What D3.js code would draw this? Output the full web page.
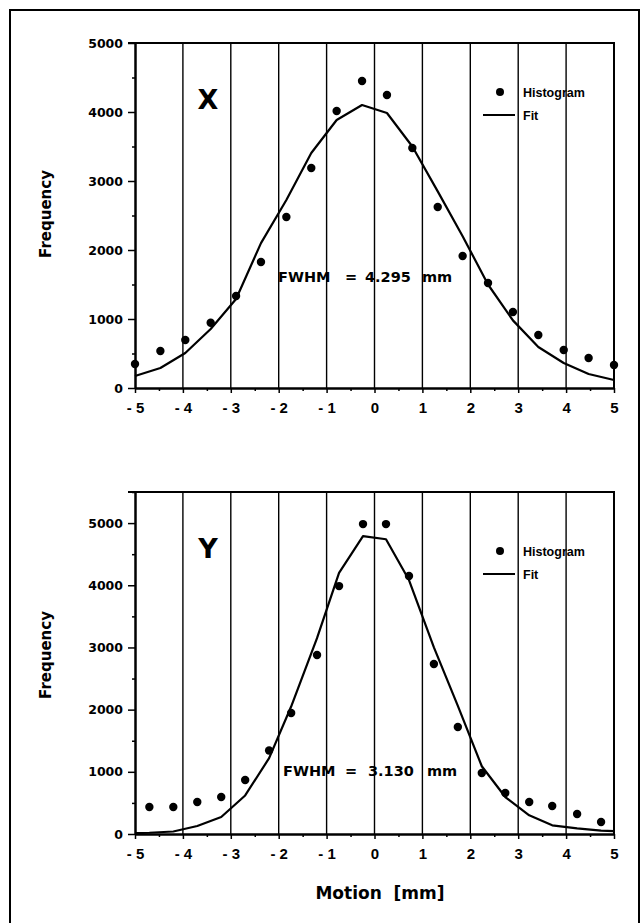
<!DOCTYPE html>
<html>
<head>
<meta charset="utf-8">
<script src="https://cdn.jsdelivr.net/npm/d3@7"></script>
<style>
  body { margin: 0; background: #fff; }
  text { fill: #000; }
</style>
</head>
<body>
<script>
// X panel: histogram bin centres, counts and gaussian fit
const motionX = [-5, -4.47, -3.95, -3.42, -2.89, -2.37, -1.84, -1.32, -0.79, -0.26,
  0.26, 0.79, 1.32, 1.84, 2.37, 2.89, 3.42, 3.95, 4.47, 5];
const histX = [348, 536, 696, 946, 1333, 1826, 2478, 3188, 4014, 4449,
  4246, 3478, 2623, 1913, 1522, 1101, 768, 551, 435, 333];
const fitX = [174, 290, 507, 855, 1290, 2100, 2725, 3406, 3884, 4101,
  3986, 3500, 2850, 2200, 1500, 980, 594, 362, 203, 116];

// Y panel
const motionY = [-4.7, -4.2, -3.7, -3.2, -2.7, -2.2, -1.74, -1.2, -0.74, -0.24,
  0.24, 0.72, 1.24, 1.74, 2.24, 2.73, 3.23, 3.71, 4.23, 4.73];
const histY = [434, 434, 514, 595, 868, 1342, 1945, 2878, 3987, 4984,
  4984, 4148, 2733, 1720, 981, 659, 514, 450, 322, 193];
const fitMotionY = [-5, -4.7, -4.2, -3.7, -3.2, -2.7, -2.2, -1.74, -1.2, -0.74, -0.24,
  0.24, 0.72, 1.24, 1.74, 2.24, 2.73, 3.23, 3.71, 4.23, 4.73, 5];
const fitY = [15, 20, 40, 129, 273, 620, 1220, 2050, 3150, 4200, 4790,
  4740, 4084, 3000, 2060, 1090, 595, 300, 140, 90, 55, 45];

const xTicks = [-5, -4, -3, -2, -1, 0, 1, 2, 3, 4, 5];
const xMinor = [-4.5, -3.5, -2.5, -1.5, -0.5, 0.5, 1.5, 2.5, 3.5, 4.5];
const yTicks = [0, 1000, 2000, 3000, 4000, 5000];
const yMinorTop = [500, 1500, 2500, 3500, 4500];
const yMinorBottom = [500, 1500, 2500, 3500, 4500, 5500];

const width = 642, height = 923;

const svg = d3.select("body").append("svg")
  .attr("width", width)
  .attr("height", height);

// outer frame
svg.append("rect")
  .attr("x", 10).attr("y", 10)
  .attr("width", 629).attr("height", 940)
  .attr("fill", "none").attr("stroke", "#000").attr("stroke-width", 2);

function drawPanel(opt) {
  const x = d3.scaleLinear().domain([-5, 5]).range([135, 614]);
  const y = d3.scaleLinear().domain([0, opt.yMax]).range([opt.bottom, opt.top]);
  const g = svg.append("g");

  // letter, FWHM note and legend first so the grid lines run over them like the scan
  g.append("text")
    .attr("x", 208).attr("y", opt.top + 66)
    .attr("text-anchor", "middle")
    .style("font", "bold 27px 'DejaVu Sans'")
    .text(opt.letter);

  const note = g.append("text")
    .attr("y", opt.fwhmY)
    .style("font", "bold 14.5px 'DejaVu Sans'");
  note.append("tspan").attr("x", opt.fwhmX[0]).text("FWHM");
  note.append("tspan").attr("x", opt.fwhmX[1]).text("=");
  note.append("tspan").attr("x", opt.fwhmX[2]).text(opt.fwhm);
  note.append("tspan").attr("x", opt.fwhmX[3]).text("mm");

  const leg = g.append("g").style("font", "bold 12.5px 'Liberation Sans'");
  leg.append("circle").attr("cx", 500).attr("cy", opt.legY).attr("r", 4);
  leg.append("text").attr("x", 523).attr("y", opt.legY + 4.5).text("Histogram");
  leg.append("line")
    .attr("x1", 483).attr("x2", 515)
    .attr("y1", opt.legY + 23).attr("y2", opt.legY + 23)
    .attr("stroke", "#000").attr("stroke-width", 2);
  leg.append("text").attr("x", 523).attr("y", opt.legY + 27.5).text("Fit");

  // vertical grid
  g.append("g")
    .selectAll("line")
    .data(xTicks.slice(1, -1))
    .join("line")
    .attr("x1", d => x(d)).attr("x2", d => x(d))
    .attr("y1", opt.top).attr("y2", opt.bottom)
    .attr("stroke", "#000").attr("stroke-width", 1.4);

  // top and right frame of the plot
  g.append("path")
    .attr("d", `M${x(-5) - 7},${opt.top}H${x(5)}V${opt.bottom}`)
    .attr("fill", "none").attr("stroke", "#000").attr("stroke-width", 2);

  // y axis
  const yAxis = g.append("g")
    .attr("transform", `translate(${x(-5)},0)`)
    .call(d3.axisLeft(y).tickValues(yTicks).tickSize(7).tickSizeOuter(0)
      .tickPadding(5).tickFormat(d3.format("d")));
  yAxis.select(".domain").attr("stroke-width", 2.5);
  yAxis.selectAll(".tick line").attr("stroke-width", 1.5);
  yAxis.selectAll("text").style("font", "bold 12.5px 'DejaVu Sans'").attr("fill", "#000");
  g.append("g")
    .attr("transform", `translate(${x(-5)},0)`)
    .call(d3.axisLeft(y).tickValues(opt.yMinor).tickSize(3).tickSizeOuter(0).tickFormat(""))
    .call(a => a.select(".domain").remove())
    .selectAll(".tick line").attr("stroke-width", 1.5);

  // x axis
  const xAxis = g.append("g")
    .attr("transform", `translate(0,${opt.bottom})`)
    .call(d3.axisBottom(x).tickValues(xTicks).tickSize(5).tickSizeOuter(0)
      .tickPadding(9).tickFormat(d => d < 0 ? "- " + Math.abs(d) : d));
  xAxis.select(".domain").attr("stroke-width", 2.5);
  xAxis.selectAll(".tick line").attr("stroke-width", 1.5);
  xAxis.selectAll("text").style("font", "bold 15px 'Liberation Sans'")
    .style("white-space", "pre").attr("fill", "#000");
  g.append("g")
    .attr("transform", `translate(0,${opt.bottom})`)
    .call(d3.axisBottom(x).tickValues(xMinor).tickSize(3).tickSizeOuter(0).tickFormat(""))
    .call(a => a.select(".domain").remove())
    .selectAll(".tick line").attr("stroke-width", 1.5);

  // fit curve
  g.append("path")
    .datum(d3.zip(opt.fitMotion, opt.fit))
    .attr("d", d3.line().x(d => x(d[0])).y(d => y(d[1])))
    .attr("fill", "none").attr("stroke", "#000").attr("stroke-width", 2.2)
    .attr("stroke-linejoin", "round");

  // histogram points
  g.append("g")
    .selectAll("circle")
    .data(d3.zip(opt.motion, opt.hist))
    .join("circle")
    .attr("cx", d => x(d[0])).attr("cy", d => y(d[1]))
    .attr("r", 4.2);

  // y label
  g.append("text")
    .attr("transform", `translate(46,${opt.labelY}) rotate(-90)`)
    .attr("text-anchor", "middle")
    .attr("dominant-baseline", "central")
    .style("font", "bold 15px 'DejaVu Sans'")
    .text("Frequency");
}

drawPanel({
  top: 43, bottom: 388, yMax: 5000, yMinor: yMinorTop,
  motion: motionX, hist: histX, fitMotion: motionX, fit: fitX,
  letter: "X", fwhm: "4.295", fwhmX: [278, 345, 365, 422], fwhmY: 282,
  legY: 92, labelY: 214
});

drawPanel({
  top: 492, bottom: 834, yMax: 5500, yMinor: yMinorBottom,
  motion: motionY, hist: histY, fitMotion: fitMotionY, fit: fitY,
  letter: "Y", fwhm: "3.130", fwhmX: [283, 345, 368, 427], fwhmY: 776,
  legY: 551, labelY: 655
});

svg.append("text")
  .attr("x", 380).attr("y", 899)
  .attr("text-anchor", "middle")
  .style("font", "bold 17px 'DejaVu Sans'")
  .style("white-space", "pre")
  .text("Motion  [mm]");
</script>
</body>
</html>
